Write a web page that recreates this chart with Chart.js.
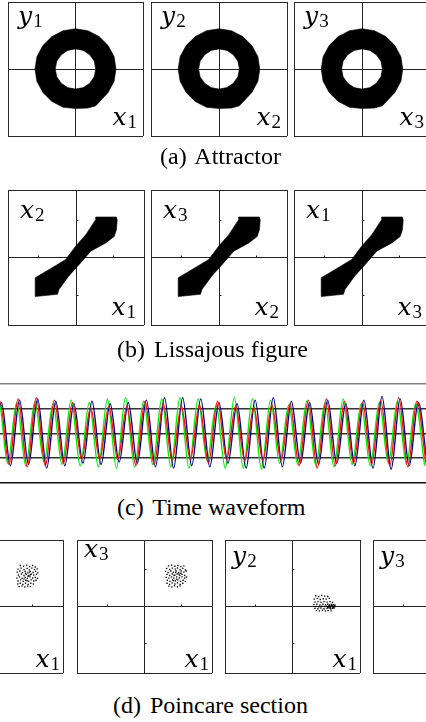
<!DOCTYPE html>
<html><head><meta charset="utf-8">
<script src="https://cdn.jsdelivr.net/npm/chart.js@4.4.1/dist/chart.umd.min.js"></script>
<style>
html,body{margin:0;padding:0;background:#fff;}
body{width:426px;height:722px;position:relative;overflow:hidden;}
.pnl{position:absolute;}
.pnl canvas{display:block;}
.lab{position:absolute;font-family:"DejaVu Serif",serif;font-style:italic;font-size:25px;line-height:25px;color:#000;white-space:nowrap;}
.lab sub{font-family:"Liberation Serif",serif;font-style:normal;font-size:19px;line-height:0;vertical-align:baseline;position:relative;top:3px;margin-left:1px;}
.cap{position:absolute;font-family:"Liberation Serif","Times New Roman",serif;font-size:24px;line-height:24px;white-space:nowrap;color:#000;}
.cap .cl{margin-right:3px;}
</style></head><body>
<script>
// ---------- data ----------
const phaseTicks = [-1.8, -1, 0, 1, 1.8];
const waveTicks = [-2, -1, 0, 1, 2];
const waveSpan = [0, 47];   // in half-periods of the oscillation

// attractor: outer boundary (counter-clockwise) then inner boundary (clockwise)
const ringOuter = [[1.08,0],[1.03,0.33],[0.87,0.63],[0.63,0.87],[0.33,1.03],[0,1.08],[-0.33,1.03],[-0.63,0.87],[-0.87,0.63],[-1.03,0.33],[-1.08,0],[-1.03,-0.33],[-0.87,-0.63],[-0.63,-0.87],[-0.33,-1.03],[0,-1.06],[0.33,-1.05],[0.54,-0.99],[0.87,-0.63],[1.03,-0.33],[1.08,0]];
const ringInner = [[0.54,0],[0.50,-0.21],[0.38,-0.38],[0.21,-0.50],[0,-0.54],[-0.21,-0.50],[-0.38,-0.38],[-0.50,-0.21],[-0.54,0],[-0.50,0.21],[-0.38,0.38],[-0.21,0.50],[0,0.54],[0.21,0.50],[0.38,0.38],[0.50,0.21],[0.54,0]];

// lissajous figure outline
const lissajous = [[0.52,1.08],[1.07,1.08],[1.09,1.00],[1.07,0.74],[1.01,0.56],[0.79,0.39],[0.39,0.17],[0.08,-0.19],[-0.19,-0.49],[-0.45,-0.85],[-0.49,-0.98],[-1.07,-1.04],[-1.08,-1.00],[-1.08,-0.54],[-0.71,-0.32],[-0.27,-0.05],[-0.01,0.30],[0.26,0.61],[0.52,1.01],[0.52,1.08]];

// poincare section points
const poincare1 = [[0.66,1.11],[0.75,1.09],[0.83,1.12],[0.91,1.08],[0.99,1.11],[1.06,1.07],[0.60,1.01],[0.68,1.04],[0.76,1.00],[0.84,1.03],[0.90,0.99],[0.97,1.04],[1.04,1.00],[1.11,1.02],[0.58,0.93],[0.65,0.96],[0.72,0.92],[0.79,0.95],[0.86,0.91],[0.93,0.95],[1.00,0.92],[1.07,0.95],[1.13,0.91],[0.61,0.85],[0.69,0.88],[0.76,0.84],[0.82,0.87],[0.89,0.84],[0.95,0.88],[1.02,0.85],[1.09,0.87],[0.57,0.77],[0.64,0.80],[0.71,0.76],[0.79,0.79],[0.85,0.76],[0.92,0.80],[0.99,0.77],[1.06,0.79],[1.12,0.76],[0.60,0.69],[0.67,0.72],[0.74,0.68],[0.81,0.71],[0.88,0.68],[0.95,0.72],[1.02,0.69],[1.08,0.71],[0.59,0.61],[0.66,0.63],[0.73,0.60],[0.80,0.63],[0.87,0.60],[0.94,0.63],[1.01,0.61],[0.63,0.54],[0.71,0.56],[0.78,0.53],[0.86,0.55],[0.93,0.54],[0.80,0.90],[0.87,0.82],[0.93,0.86],[0.76,0.74],[0.84,0.70],[0.90,0.93]];
const poincare2 = [[0.64,1.10],[0.72,1.12],[0.81,1.09],[0.89,1.11],[0.97,1.08],[1.05,1.10],[0.59,1.03],[0.67,1.00],[0.74,1.04],[0.82,1.01],[0.88,1.04],[0.95,1.00],[1.02,1.03],[1.09,0.99],[0.56,0.95],[0.63,0.92],[0.70,0.96],[0.77,0.93],[0.84,0.96],[0.91,0.92],[0.98,0.96],[1.05,0.93],[1.11,0.96],[0.60,0.87],[0.67,0.84],[0.74,0.88],[0.81,0.85],[0.87,0.88],[0.94,0.84],[1.00,0.87],[1.07,0.84],[0.58,0.79],[0.65,0.77],[0.72,0.80],[0.78,0.77],[0.86,0.80],[0.93,0.77],[1.00,0.80],[1.07,0.77],[1.12,0.80],[0.61,0.71],[0.68,0.68],[0.75,0.72],[0.82,0.69],[0.89,0.72],[0.96,0.68],[1.03,0.71],[1.09,0.68],[0.60,0.63],[0.67,0.60],[0.74,0.64],[0.81,0.61],[0.88,0.64],[0.95,0.60],[1.02,0.63],[0.65,0.55],[0.73,0.53],[0.80,0.56],[0.88,0.53],[0.95,0.56],[0.83,0.92],[0.79,0.84],[0.92,0.88],[0.85,0.74],[0.77,0.70],[0.97,0.90]];
const poincare3 = [[0.62,0.29],[0.70,0.27],[0.78,0.30],[0.86,0.28],[0.94,0.27],[0.58,0.20],[0.66,0.22],[0.74,0.19],[0.82,0.21],[0.90,0.20],[0.98,0.22],[0.60,0.12],[0.68,0.13],[0.76,0.11],[0.84,0.13],[0.92,0.12],[1.00,0.13],[1.07,0.11],[0.57,0.05],[0.65,0.06],[0.73,0.04],[0.81,0.06],[0.88,0.05],[0.94,0.06],[0.99,0.04],[1.04,0.06],[1.09,0.05],[1.13,0.04],[0.62,0.00],[0.70,-0.01],[0.78,0.01],[0.86,0.00],[0.91,0.01],[0.96,-0.01],[1.00,0.01],[1.03,0.00],[1.06,0.01],[1.10,-0.01],[1.13,0.00],[0.60,-0.05],[0.68,-0.06],[0.76,-0.04],[0.84,-0.06],[0.92,-0.05],[0.98,-0.04],[1.02,-0.06],[1.07,-0.05],[1.11,-0.04],[0.64,-0.11],[0.72,-0.12],[0.80,-0.10],[0.88,-0.12],[0.95,-0.11],[1.03,-0.12],[0.97,0.02],[1.01,-0.02],[1.05,0.03],[1.08,-0.02],[0.94,-0.02],[1.11,0.02]];
const poincare4 = [[0.62,0.20],[0.70,0.14],[0.78,0.22],[0.86,0.10],[0.94,0.16],[1.02,0.08],[0.66,0.02],[0.74,-0.04],[0.82,0.04],[0.90,-0.02],[0.98,0.01],[1.06,-0.06],[0.72,-0.12],[0.80,-0.09],[0.88,-0.14],[0.96,-0.08]];

// time waveform: successive extremes (trough, peak, ...) of each state
const waveRed = [-1.20,1.30,-1.25,1.40,-1.35,1.45,-1.30,1.35,-1.20,1.25, -1.05,1.05,-1.05,1.10,-1.05,1.10,-1.30,1.30,-1.25,1.20, -1.10,1.10,-1.05,1.15,-1.20,1.30,-1.05,1.10,-1.10,1.05, -1.10,1.15,-1.10,1.20,-1.30,1.35,-1.40,1.40,-1.30,1.30, -1.20,1.25,-1.25,1.35,-1.30,1.45,-1.35,1.30,-1.20];
const waveGreen = [-1.30,1.35,-1.20,1.25,-1.30,1.30,-1.15,1.20,-1.25,1.35, -1.30,1.25,-1.35,1.40,-1.40,1.45,-1.35,1.30,-1.25,1.40, -1.35,1.45,-1.40,1.40,-1.10,1.15,-1.40,1.45,-1.40,1.40, -1.45,1.35,-1.20,1.15,-1.25,1.30,-1.30,1.25,-1.35,1.40, -1.25,1.20,-1.30,1.25,-1.20,1.30,-1.25,1.20,-1.30];
const waveBlue = [-1.35,1.25,-1.30,1.35,-1.25,1.40,-1.40,1.30,-1.30,1.20, -1.20,1.30,-1.25,1.20,-1.15,1.25,-1.20,1.35,-1.35,1.45, -1.40,1.45,-1.30,1.40,-1.35,1.25,-1.20,1.20,-1.40,1.35, -1.40,1.45,-1.35,1.30,-1.20,1.25,-1.25,1.35,-1.20,1.20, -1.30,1.35,-1.40,1.50,-1.45,1.40,-1.30,1.25,-1.35];
// time of first extreme (in half-periods) for each state
const waveStart = {red: -1, green: -1.15, blue: -0.85};

// ---------- drawing ----------
const BOX = '#2a2a2a', CROSS = '#222', CLEAR = 'rgba(0,0,0,0)';
const pts = a => a.map(p => ({x: p[0], y: p[1]}));

function phaseAxis(other, withTicks) {
  return {
    type: 'linear', min: phaseTicks[0], max: phaseTicks[phaseTicks.length - 1],
    position: {[other]: 0},
    afterBuildTicks: s => { s.ticks = phaseTicks.map(v => ({value: v})); },
    ticks: {display: false},
    grid: {
      drawOnChartArea: true, lineWidth: 1,
      color: c => (c.tick && Math.abs(c.tick.value) === phaseTicks[phaseTicks.length - 1]) ? BOX : CLEAR,
      drawTicks: withTicks, tickLength: -2.5, tickWidth: 1,
      tickColor: c => (c.tick && Math.abs(c.tick.value) === 1) ? CROSS : CLEAR
    },
    border: {display: true, color: CROSS, width: 1}
  };
}

function makeCanvas(left, top, w, h) {
  const d = document.createElement('div');
  d.className = 'pnl';
  d.style.left = left + 'px'; d.style.top = top + 'px';
  d.style.width = w + 'px'; d.style.height = h + 'px';
  const c = document.createElement('canvas');
  c.width = w; c.height = h; c.style.width = w + 'px'; c.style.height = h + 'px';
  d.appendChild(c); document.body.appendChild(d);
  return c;
}

const baseOpts = {responsive: false, animation: false, events: [],
  plugins: {legend: {display: false}, tooltip: {enabled: false}}};

function phasePanel(box, datasets, withTicks) {
  const [L, T, W, H] = box;
  const c = makeCanvas(L - 1, T - 1, W + 2, H + 2);
  new Chart(c, {type: 'scatter', data: {datasets},
    options: Object.assign({}, baseOpts, {layout: {padding: 1},
      scales: {x: phaseAxis('y', withTicks), y: phaseAxis('x', withTicks)}})});
}

function shapeSet(arr) {
  return {data: pts(arr), showLine: true, fill: 'shape', backgroundColor: '#000',
    borderColor: '#000', borderWidth: 0.6, pointRadius: 0, tension: 0};
}
function dotSet(arr) {
  return {data: pts(arr), showLine: false, pointStyle: 'rect', pointRadius: 0.95,
    pointBackgroundColor: '#000', pointBorderWidth: 0};
}

function label(txt, sub, x, baseline, align) {
  const s = document.createElement('div');
  s.className = 'lab';
  s.innerHTML = txt + '<sub>' + sub + '</sub>';
  s.style.top = (baseline - 21.15) + 'px';
  if (align === 'right') s.style.right = (426 - x) + 'px'; else s.style.left = x + 'px';
  document.body.appendChild(s);
}
function caption(tag, text, left, baseline) {
  const s = document.createElement('div');
  s.className = 'cap';
  s.innerHTML = '<span class="cl">' + tag + '</span> ' + text;
  s.style.left = left + 'px';
  s.style.top = (baseline - 20.1) + 'px';
  document.body.appendChild(s);
}

// (a) attractor
const ring = ringOuter.concat(ringInner);
const boxesA = [[8, 2, 135, 134], [151, 2, 136, 134], [294, 2, 136, 134]];
const labA = [['y', '1', 'x', '1'], ['y', '2', 'x', '2'], ['y', '3', 'x', '3']];
boxesA.forEach((b, i) => {
  phasePanel(b, [shapeSet(ring)], false);
  label(labA[i][0], labA[i][1], b[0] + 10, b[1] + 22, 'left');
  label(labA[i][2], labA[i][3], b[0] + b[2] - 6, b[1] + b[3] - 11, 'right');
});
caption('(a)', 'Attractor', 160, 164);

// (b) lissajous
const boxesB = [[8, 190, 136, 135], [151, 190, 136, 135], [294, 190, 136, 135]];
const labB = [['x', '2', 'x', '1'], ['x', '3', 'x', '2'], ['x', '1', 'x', '3']];
boxesB.forEach((b, i) => {
  phasePanel(b, [shapeSet(lissajous)], true);
  label(labB[i][0], labB[i][1], b[0] + 12, b[1] + 28, 'left');
  label(labB[i][2], labB[i][3], b[0] + b[2] - 8, b[1] + b[3] - 10, 'right');
});
caption('(b)', 'Lissajous figure', 117, 357);

// (c) time waveform
function waveSet(vals, start, color) {
  return {data: vals.map((v, i) => ({x: start + i, y: v})), showLine: true,
    borderColor: color, borderWidth: 1.4, pointRadius: 0, cubicInterpolationMode: 'monotone', fill: false};
}
(function () {
  const c = makeCanvas(0, 380, 426, 106);
  new Chart(c, {type: 'scatter', data: {datasets: [
      waveSet(waveRed, waveStart.red, '#ff1010'),
      waveSet(waveBlue, waveStart.blue, '#000088'),
      waveSet(waveGreen, waveStart.green, '#00ee00')]},
    options: Object.assign({}, baseOpts, {layout: {padding: {top: 4, bottom: 3, left: 0, right: 0}},
      scales: {
        x: {type: 'linear', display: false, min: waveSpan[0], max: waveSpan[1]},
        y: {type: 'linear', min: waveTicks[0], max: waveTicks[waveTicks.length - 1], z: 1,
          afterBuildTicks: s => { s.ticks = waveTicks.map(v => ({value: v})); },
          ticks: {display: false},
          border: {display: false},
          grid: {drawTicks: false, lineWidth: c => (c.tick && Math.abs(c.tick.value) === 2) ? 1.5 : 1.6,
            color: c => !c.tick ? CLEAR : (c.tick.value === 2 ? '#808080' : (c.tick.value === -2 ? '#111' : '#333'))}
        }
      }})});
})();
caption('(c)', 'Time waveform', 117, 515);

// (d) poincare section
const boxesD = [[-75, 537, 141, 139], [74, 537, 141, 139], [222, 537, 141, 139], [370, 537, 141, 139]];
const setsD = [poincare1, poincare2, poincare3, poincare4];
const labD = [['x', '2', 'x', '1', 9], ['x', '3', 'x', '1', 20], ['y', '2', 'x', '1', 27], ['y', '3', 'x', '1', 27]];
boxesD.forEach((b, i) => {
  phasePanel(b, [dotSet(setsD[i])], true);
  label(labD[i][0], labD[i][1], b[0] + 10, b[1] + labD[i][4], 'left');
  label(labD[i][2], labD[i][3], b[0] + b[2] - 6, b[1] + b[3] - 9, 'right');
});
caption('(d)', 'Poincare section', 113, 713);
</script>
</body></html>
